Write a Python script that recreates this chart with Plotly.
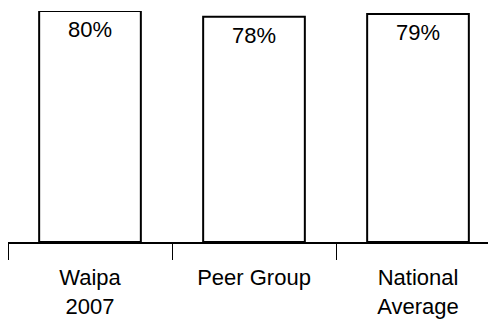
import plotly.graph_objects as go

# -------------------------------
# DATA
# -------------------------------

categories = ["Waipa<br>2007", "Peer Group", "National<br>Average"]
values = [80, 78, 79]
labels = ["80%", "78%", "79%"]

# -------------------------------
# BAR CHART
# -------------------------------

fig = go.Figure()

fig.add_trace(
    go.Bar(
        x=categories,
        y=values,
        marker=dict(color='white', line=dict(color='black', width=2)),
        width=0.62,
        hoverinfo='skip'
    )
)

# value labels just under the top of each bar
# (invisible markers only set the offset of the text)
fig.add_trace(
    go.Scatter(
        x=categories,
        y=values,
        text=labels,
        mode='markers+text',
        textposition='bottom center',
        textfont=dict(family='Liberation Sans, Arial, sans-serif', size=22, color='black'),
        marker=dict(size=14, opacity=0),
        hoverinfo='skip',
        cliponaxis=False
    )
)

# -------------------------------
# LAYOUT
# (page body has an 8px margin, so the figure is 8px smaller)
# -------------------------------

fig.update_layout(
    width=488,
    height=314,
    margin=dict(l=0, r=0, t=3, b=80),
    paper_bgcolor='white',
    plot_bgcolor='white',
    showlegend=False,
    font=dict(family='Liberation Sans, Arial, sans-serif', size=22, color='black'),
    xaxis=dict(
        range=[-0.5, -0.5 + 488 / 164],
        showline=True,
        linecolor='black',
        linewidth=2,
        ticks='outside',
        tickson='boundaries',
        ticklen=16,
        tickwidth=1,
        tickcolor='black',
        showgrid=False,
        zeroline=False,
        automargin=False,
        ticklabelstandoff=15,
    ),
    yaxis=dict(
        range=[0, 80],
        visible=False,
        showgrid=False,
        zeroline=False,
    ),
)

fig.write_html("out.html")
